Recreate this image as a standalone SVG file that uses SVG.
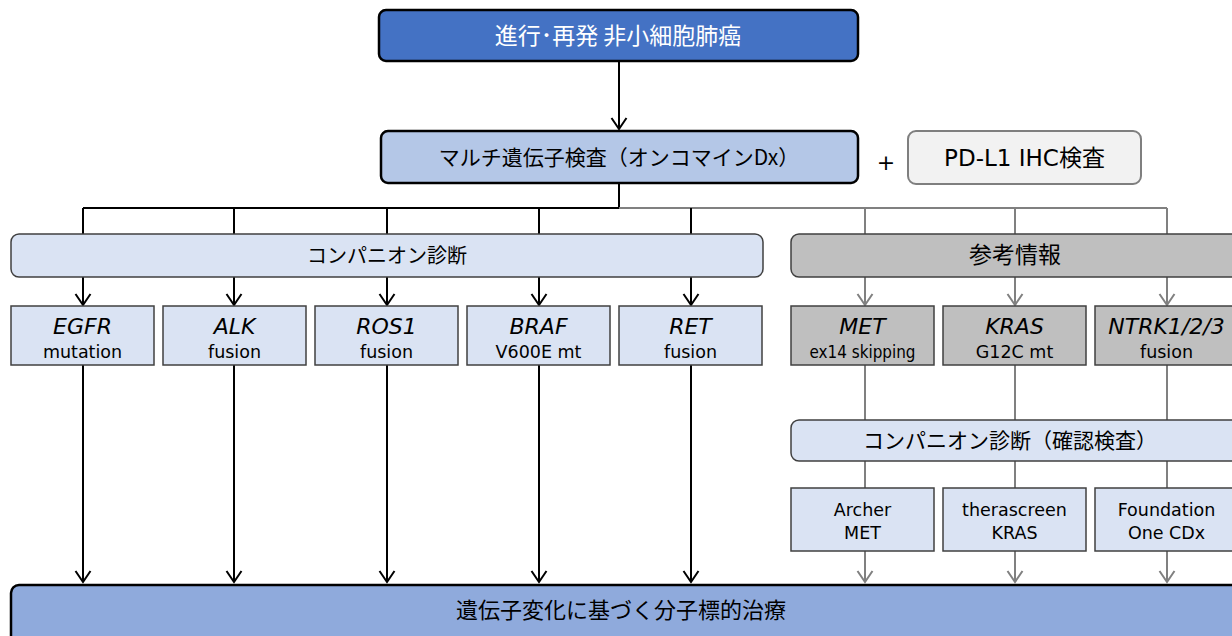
<svg xmlns="http://www.w3.org/2000/svg" width="1232" height="636" viewBox="0 0 1232 636">
<defs>
<style>
.jp{font-family:"Noto Sans CJK JP","DejaVu Sans",sans-serif;}
.lt{font-family:"DejaVu Sans","Noto Sans CJK JP",sans-serif;}
.it{font-family:"DejaVu Sans",sans-serif;font-style:italic;font-size:22px;}
.sm{font-family:"DejaVu Sans",sans-serif;font-size:17.5px;}
.box{fill:#DAE3F3;stroke:#404040;stroke-width:1.5;}
.gbox{fill:#BFBFBF;stroke:#404040;stroke-width:1.5;}
.bl{stroke:#000;stroke-width:2;fill:none;}
.gr{stroke:#808080;stroke-width:2;fill:none;}
text{text-anchor:middle;fill:#000;}
</style>
<marker id="ab" markerUnits="userSpaceOnUse" markerWidth="18" markerHeight="16" refX="12" refY="8" orient="auto" overflow="visible">
<path d="M1,0.5 L12,8 L1,15.5" fill="none" stroke="#000" stroke-width="2"/>
</marker>
<marker id="ag" markerUnits="userSpaceOnUse" markerWidth="18" markerHeight="16" refX="12" refY="8" orient="auto" overflow="visible">
<path d="M1,0.5 L12,8 L1,15.5" fill="none" stroke="#808080" stroke-width="2"/>
</marker>
</defs>
<rect width="1232" height="636" fill="#fff"/>

<g id="connectors">
<line class="bl" x1="619" y1="62" x2="619" y2="129" marker-end="url(#ab)"/>
<polyline class="bl" points="619,183 619,208 83,208" stroke-width="3"/>
<line class="gr" x1="619" y1="208" x2="1167" y2="208"/>
<line class="bl" x1="83" y1="208" x2="83" y2="234"/>
<line class="bl" x1="234" y1="208" x2="234" y2="234"/>
<line class="bl" x1="387" y1="208" x2="387" y2="234"/>
<line class="bl" x1="539" y1="208" x2="539" y2="234"/>
<line class="bl" x1="691" y1="208" x2="691" y2="234"/>
<line class="gr" x1="865" y1="208" x2="865" y2="234"/>
<line class="gr" x1="1015" y1="208" x2="1015" y2="234"/>
<line class="gr" x1="1167" y1="208" x2="1167" y2="234"/>
<line class="bl" x1="83" y1="277" x2="83" y2="305" marker-end="url(#ab)"/>
<line class="bl" x1="234" y1="277" x2="234" y2="305" marker-end="url(#ab)"/>
<line class="bl" x1="387" y1="277" x2="387" y2="305" marker-end="url(#ab)"/>
<line class="bl" x1="539" y1="277" x2="539" y2="305" marker-end="url(#ab)"/>
<line class="bl" x1="691" y1="277" x2="691" y2="305" marker-end="url(#ab)"/>
<line class="gr" x1="865" y1="277" x2="865" y2="305" marker-end="url(#ag)"/>
<line class="gr" x1="1015" y1="277" x2="1015" y2="305" marker-end="url(#ag)"/>
<line class="gr" x1="1167" y1="277" x2="1167" y2="305" marker-end="url(#ag)"/>
<line class="bl" x1="83" y1="365" x2="83" y2="582" marker-end="url(#ab)"/>
<line class="bl" x1="234" y1="365" x2="234" y2="582" marker-end="url(#ab)"/>
<line class="bl" x1="387" y1="365" x2="387" y2="582" marker-end="url(#ab)"/>
<line class="bl" x1="539" y1="365" x2="539" y2="582" marker-end="url(#ab)"/>
<line class="bl" x1="691" y1="365" x2="691" y2="582" marker-end="url(#ab)"/>
<line class="gr" x1="865" y1="365" x2="865" y2="420"/>
<line class="gr" x1="1015" y1="365" x2="1015" y2="420"/>
<line class="gr" x1="1167" y1="365" x2="1167" y2="420"/>
<line class="gr" x1="865" y1="461" x2="865" y2="488"/>
<line class="gr" x1="1015" y1="461" x2="1015" y2="488"/>
<line class="gr" x1="1167" y1="461" x2="1167" y2="488"/>
<line class="gr" x1="865" y1="551" x2="865" y2="582" marker-end="url(#ag)"/>
<line class="gr" x1="1015" y1="551" x2="1015" y2="582" marker-end="url(#ag)"/>
<line class="gr" x1="1167" y1="551" x2="1167" y2="582" marker-end="url(#ag)"/>
</g>

<g id="n-top">
<rect x="379" y="10" width="479" height="51" rx="7" fill="#4472C4" stroke="#000" stroke-width="2.5"/>
<text class="jp" x="618" y="44" font-size="23" style="fill:#fff">進行･再発 非小細胞肺癌</text>
</g>
<g id="n-multi">
<rect x="381" y="131" width="477" height="52" rx="7" fill="#B4C7E7" stroke="#000" stroke-width="2.5"/>
<text class="jp" x="619" y="165" font-size="21">マルチ遺伝子検査（オンコマインDx）</text>
</g>
<g id="n-plus">
<text class="lt" x="886" y="170" font-size="22">+</text>
</g>
<g id="n-pdl1">
<rect x="908" y="131" width="233" height="53" rx="8" fill="#F2F2F2" stroke="#7F7F7F" stroke-width="2"/>
<text class="lt" x="1024.5" y="166" font-size="23">PD-L1 IHC検査</text>
</g>
<g id="n-cdx">
<rect class="box" x="11" y="234" width="752" height="43" rx="8"/>
<text class="jp" x="387" y="263" font-size="20">コンパニオン診断</text>
</g>
<g id="n-ref">
<rect class="gbox" x="791" y="234" width="460" height="43" rx="8"/>
<text class="jp" x="1015" y="263" font-size="23">参考情報</text>
</g>
<g id="n-egfr"><rect class="box" x="11" y="306" width="143" height="59"/><text class="it" x="82.5" y="334">EGFR</text><text class="sm" x="82.5" y="358">mutation</text></g>
<g id="n-alk"><rect class="box" x="163" y="306" width="143" height="59"/><text class="it" x="234.5" y="334">ALK</text><text class="sm" x="234.5" y="358">fusion</text></g>
<g id="n-ros1"><rect class="box" x="315" y="306" width="143" height="59"/><text class="it" x="386.5" y="334">ROS1</text><text class="sm" x="386.5" y="358">fusion</text></g>
<g id="n-braf"><rect class="box" x="467" y="306" width="143" height="59"/><text class="it" x="538.5" y="334">BRAF</text><text class="sm" x="538.5" y="358">V600E mt</text></g>
<g id="n-ret"><rect class="box" x="619" y="306" width="143" height="59"/><text class="it" x="690.5" y="334">RET</text><text class="sm" x="690.5" y="358">fusion</text></g>
<g id="n-met"><rect class="gbox" x="791" y="306" width="143" height="59"/><text class="it" x="862.5" y="334">MET</text><text class="sm" x="862.5" y="358" textLength="106" lengthAdjust="spacingAndGlyphs">ex14 skipping</text></g>
<g id="n-kras"><rect class="gbox" x="943" y="306" width="143" height="59"/><text class="it" x="1014.5" y="334">KRAS</text><text class="sm" x="1014.5" y="358">G12C mt</text></g>
<g id="n-ntrk"><rect class="gbox" x="1095" y="306" width="160" height="59"/><text class="it" x="1166.5" y="334">NTRK1/2/3</text><text class="sm" x="1166.5" y="358">fusion</text></g>
<g id="n-confirm">
<rect class="box" x="791" y="420" width="460" height="41" rx="8"/>
<text class="jp" x="1010" y="448" font-size="21">コンパニオン診断（確認検査）</text>
</g>
<g id="n-archer"><rect class="box" x="791" y="488" width="143" height="63"/><text class="sm" x="862.5" y="516" font-size="18">Archer</text><text class="sm" x="862.5" y="539" font-size="18">MET</text></g>
<g id="n-thera"><rect class="box" x="943" y="488" width="143" height="63"/><text class="sm" x="1014.5" y="516" font-size="18">therascreen</text><text class="sm" x="1014.5" y="539" font-size="18">KRAS</text></g>
<g id="n-f1"><rect class="box" x="1095" y="488" width="160" height="63"/><text class="sm" x="1166.5" y="516" font-size="18">Foundation</text><text class="sm" x="1166.5" y="539" font-size="18">One CDx</text></g>
<g id="n-bottom">
<rect x="11" y="585" width="1250" height="60" rx="8" fill="#8FAADC" stroke="#000" stroke-width="2.5"/>
<text class="jp" x="621" y="618" font-size="22">遺伝子変化に基づく分子標的治療</text>
</g>
</svg>
